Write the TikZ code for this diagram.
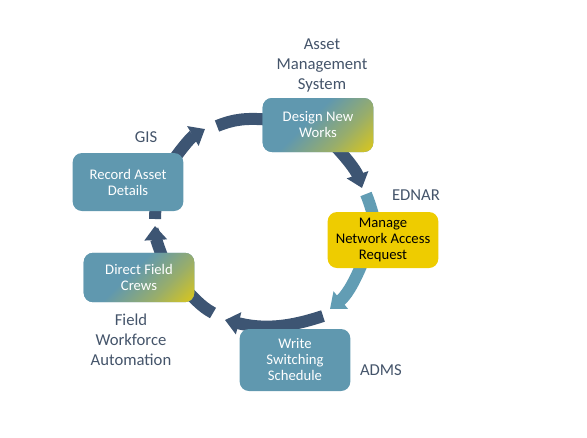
\documentclass[tikz,border=0pt]{standalone}
\usepackage{fontspec}
\setmainfont{Carlito}
\usepackage{tikz}
\usetikzlibrary{arrows.meta}
\usetikzlibrary{backgrounds}

\definecolor{boxblue}{RGB}{96,152,175}
\definecolor{boxgold}{RGB}{238,204,0}
\definecolor{fadegold}{RGB}{222,200,22}
\definecolor{arcdark}{RGB}{61,85,115}
\definecolor{arclight}{RGB}{98,157,180}
\definecolor{labelgray}{RGB}{68,84,106}
\pgfdeclarehorizontalshading{bluegold}{100bp}{color(0bp)=(boxblue); color(44bp)=(boxblue); color(66bp)=(boxblue!55!fadegold); color(86bp)=(fadegold); color(100bp)=(fadegold)}

\begin{document}
\begin{tikzpicture}[x=0.75pt,y=0.75pt,
  stepbox/.style={rectangle,rounded corners=7pt,fill=boxblue,text=white,align=center,
    minimum width=83pt,minimum height=41pt,inner sep=2pt,font=\fontsize{11}{12}\selectfont},
  fadebox/.style={stepbox,shade,shading=bluegold,shading angle=-45},
  goldbox/.style={stepbox,fill=boxgold,text=black},
  sysname/.style={text=labelgray,align=center,font=\fontsize{12.5}{15}\selectfont},
  darkarc/.style={draw=arcdark,line width=9pt},
  lightarc/.style={draw=arclight,line width=9pt},
  headtip/.style={-{Triangle[width=16.5pt,length=10.5pt]}}]
  \useasboundingbox (0,0) rectangle (587,-437);

  % the five steps
  \node[fadebox,minimum height=40.5pt] (dsg) at (318,-125) {Design New\\Works};
  \node[goldbox,minimum height=42pt] (mng) at (383,-240) {Manage\\Network Access\\Request};
  \node[stepbox,minimum height=46.5pt] (wrt) at (295,-360) {Write\\Switching\\Schedule};
  \node[fadebox,minimum height=37pt] (drc) at (139,-277.5) {Direct Field\\Crews};
  \node[stepbox,minimum height=43.5pt] (rec) at (128,-182) {Record Asset\\Details};

  % the systems
  \node[sysname] (ams) at (322,-65) {Asset\\Management\\System};
  \node[sysname] (gis) at (146,-137) {GIS};
  \node[sysname] (ednar) at (416,-195) {EDNAR};
  \node[sysname] (adms) at (381,-370) {ADMS};
  \node[sysname] (fwa) at (131,-340) {Field\\Workforce\\Automation};

  % ends of the arcs
  \coordinate (tipa) at (205,-129);
  \coordinate (gapb) at (217,-126);
  \coordinate (tipc) at (362,-188);
  \coordinate (gapd) at (366,-194);
  \coordinate (tipe) at (330,-309);
  \coordinate (gapf) at (323,-316);
  \coordinate (tipf) at (225,-320);
  \coordinate (gapg) at (213,-313);
  \coordinate (tiph) at (155,-226);
  \coordinate (gapi) at (155,-219);

  \begin{scope}[on background layer]
    \draw[darkarc,headtip,shorten <=-5pt] (rec.30) to[bend left=12] (tipa);
    \draw[darkarc,shorten >=-5pt] (gapb) to[bend left=13] (dsg.174);
    \draw[darkarc,headtip,shorten <=-5pt] (dsg.-50) to[bend left=12] (tipc);
    \draw[lightarc,shorten >=-5pt] (gapd) to[bend left=3] (mng.111);
    \draw[lightarc,headtip,shorten <=-5pt] (mng.-129) to[bend left=14] (tipe);
    \draw[darkarc,headtip] (gapf) to[bend left=16] (tipf);
    \draw[darkarc,shorten >=-5pt] (gapg) to[bend left=8] (drc.-21);
    \draw[darkarc,headtip,shorten <=-5pt] (drc.49) to[bend left=9] (tiph);
    \draw[darkarc,shorten >=-5pt] (gapi) -- (rec.-47);
  \end{scope}
\end{tikzpicture}
\end{document}
